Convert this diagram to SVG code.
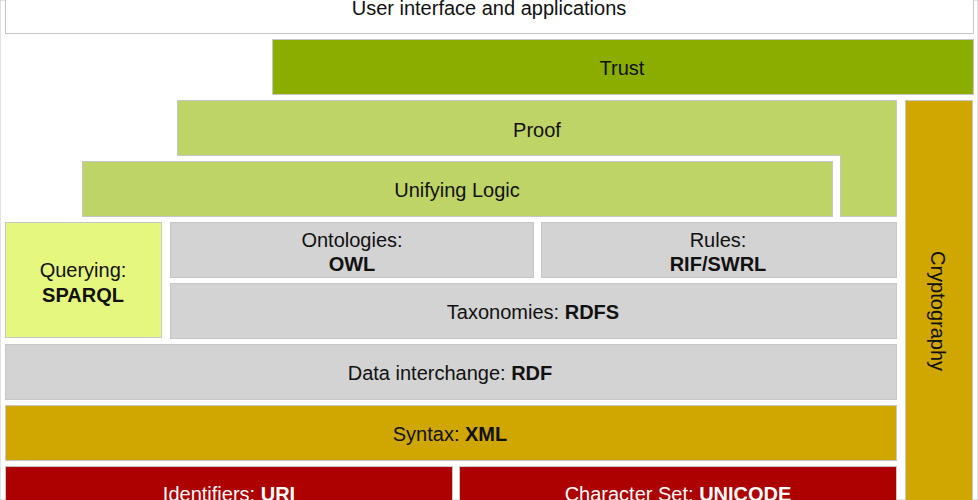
<svg xmlns="http://www.w3.org/2000/svg" width="978" height="500" viewBox="0 0 978 500">
<style>
rect, path { stroke: #c6c6c6; stroke-width: 1; }
text { font-family: "Liberation Sans", Arial, sans-serif; font-size: 20px; text-anchor: middle; fill: #111; }
.b { font-weight: bold; }
.w { fill: #ffffff; }
.ui { fill: #ffffff; }
.trust { fill: #8aad00; }
.lg { fill: #bfd466; }
.q { fill: #e5f77e; }
.g { fill: #d3d3d3; }
.y { fill: #d0a600; }
.r { fill: #ad0000; }
</style>
<rect width="978" height="500" fill="#ffffff" stroke="none"/>
<g id="ui"><rect class="ui" x="5.5" y="-20" width="968" height="53.5"/><text x="489" y="15">User interface and applications</text></g>
<g id="trust"><rect class="trust" x="272.5" y="39.5" width="701" height="55"/><text x="622" y="75">Trust</text></g>
<g id="proof"><path class="lg" d="M177.5 100.5 H896.5 V216.5 H840.5 V155.5 H177.5 Z"/><text x="537" y="137">Proof</text></g>
<g id="logic"><rect class="lg" x="82.5" y="161.5" width="750" height="55"/><text x="457" y="197">Unifying Logic</text></g>
<g id="crypto"><rect class="y" x="905.5" y="100.5" width="67" height="420"/><text transform="translate(931 311) rotate(90)">Cryptography</text></g>
<g id="query"><rect class="q" x="5.5" y="222.5" width="156" height="115"/><text x="83" y="277">Querying:</text><text class="b" x="83" y="302">SPARQL</text></g>
<g id="owl"><rect class="g" x="170.5" y="222.5" width="363" height="55"/><text x="352" y="247">Ontologies:</text><text class="b" x="352" y="271">OWL</text></g>
<g id="rules"><rect class="g" x="541.5" y="222.5" width="355" height="55"/><text x="718" y="247">Rules:</text><text class="b" x="718" y="271">RIF/SWRL</text></g>
<g id="rdfs"><rect class="g" x="170.5" y="283.5" width="726" height="55"/><text x="533" y="319">Taxonomies: <tspan class="b">RDFS</tspan></text></g>
<g id="rdf"><rect class="g" x="5.5" y="344.5" width="891" height="55"/><text x="450" y="380">Data interchange: <tspan class="b">RDF</tspan></text></g>
<g id="xml"><rect class="y" x="5.5" y="405.5" width="891" height="55"/><text x="450" y="441">Syntax: <tspan class="b">XML</tspan></text></g>
<g id="uri"><rect class="r" x="5.5" y="466.5" width="447" height="55"/><text class="w" x="229" y="501">Identifiers: <tspan class="b">URI</tspan></text></g>
<g id="unicode"><rect class="r" x="459.5" y="466.5" width="437" height="55"/><text class="w" x="678" y="501">Character Set: <tspan class="b">UNICODE</tspan></text></g>
<g id="connectors"></g>
</svg>
